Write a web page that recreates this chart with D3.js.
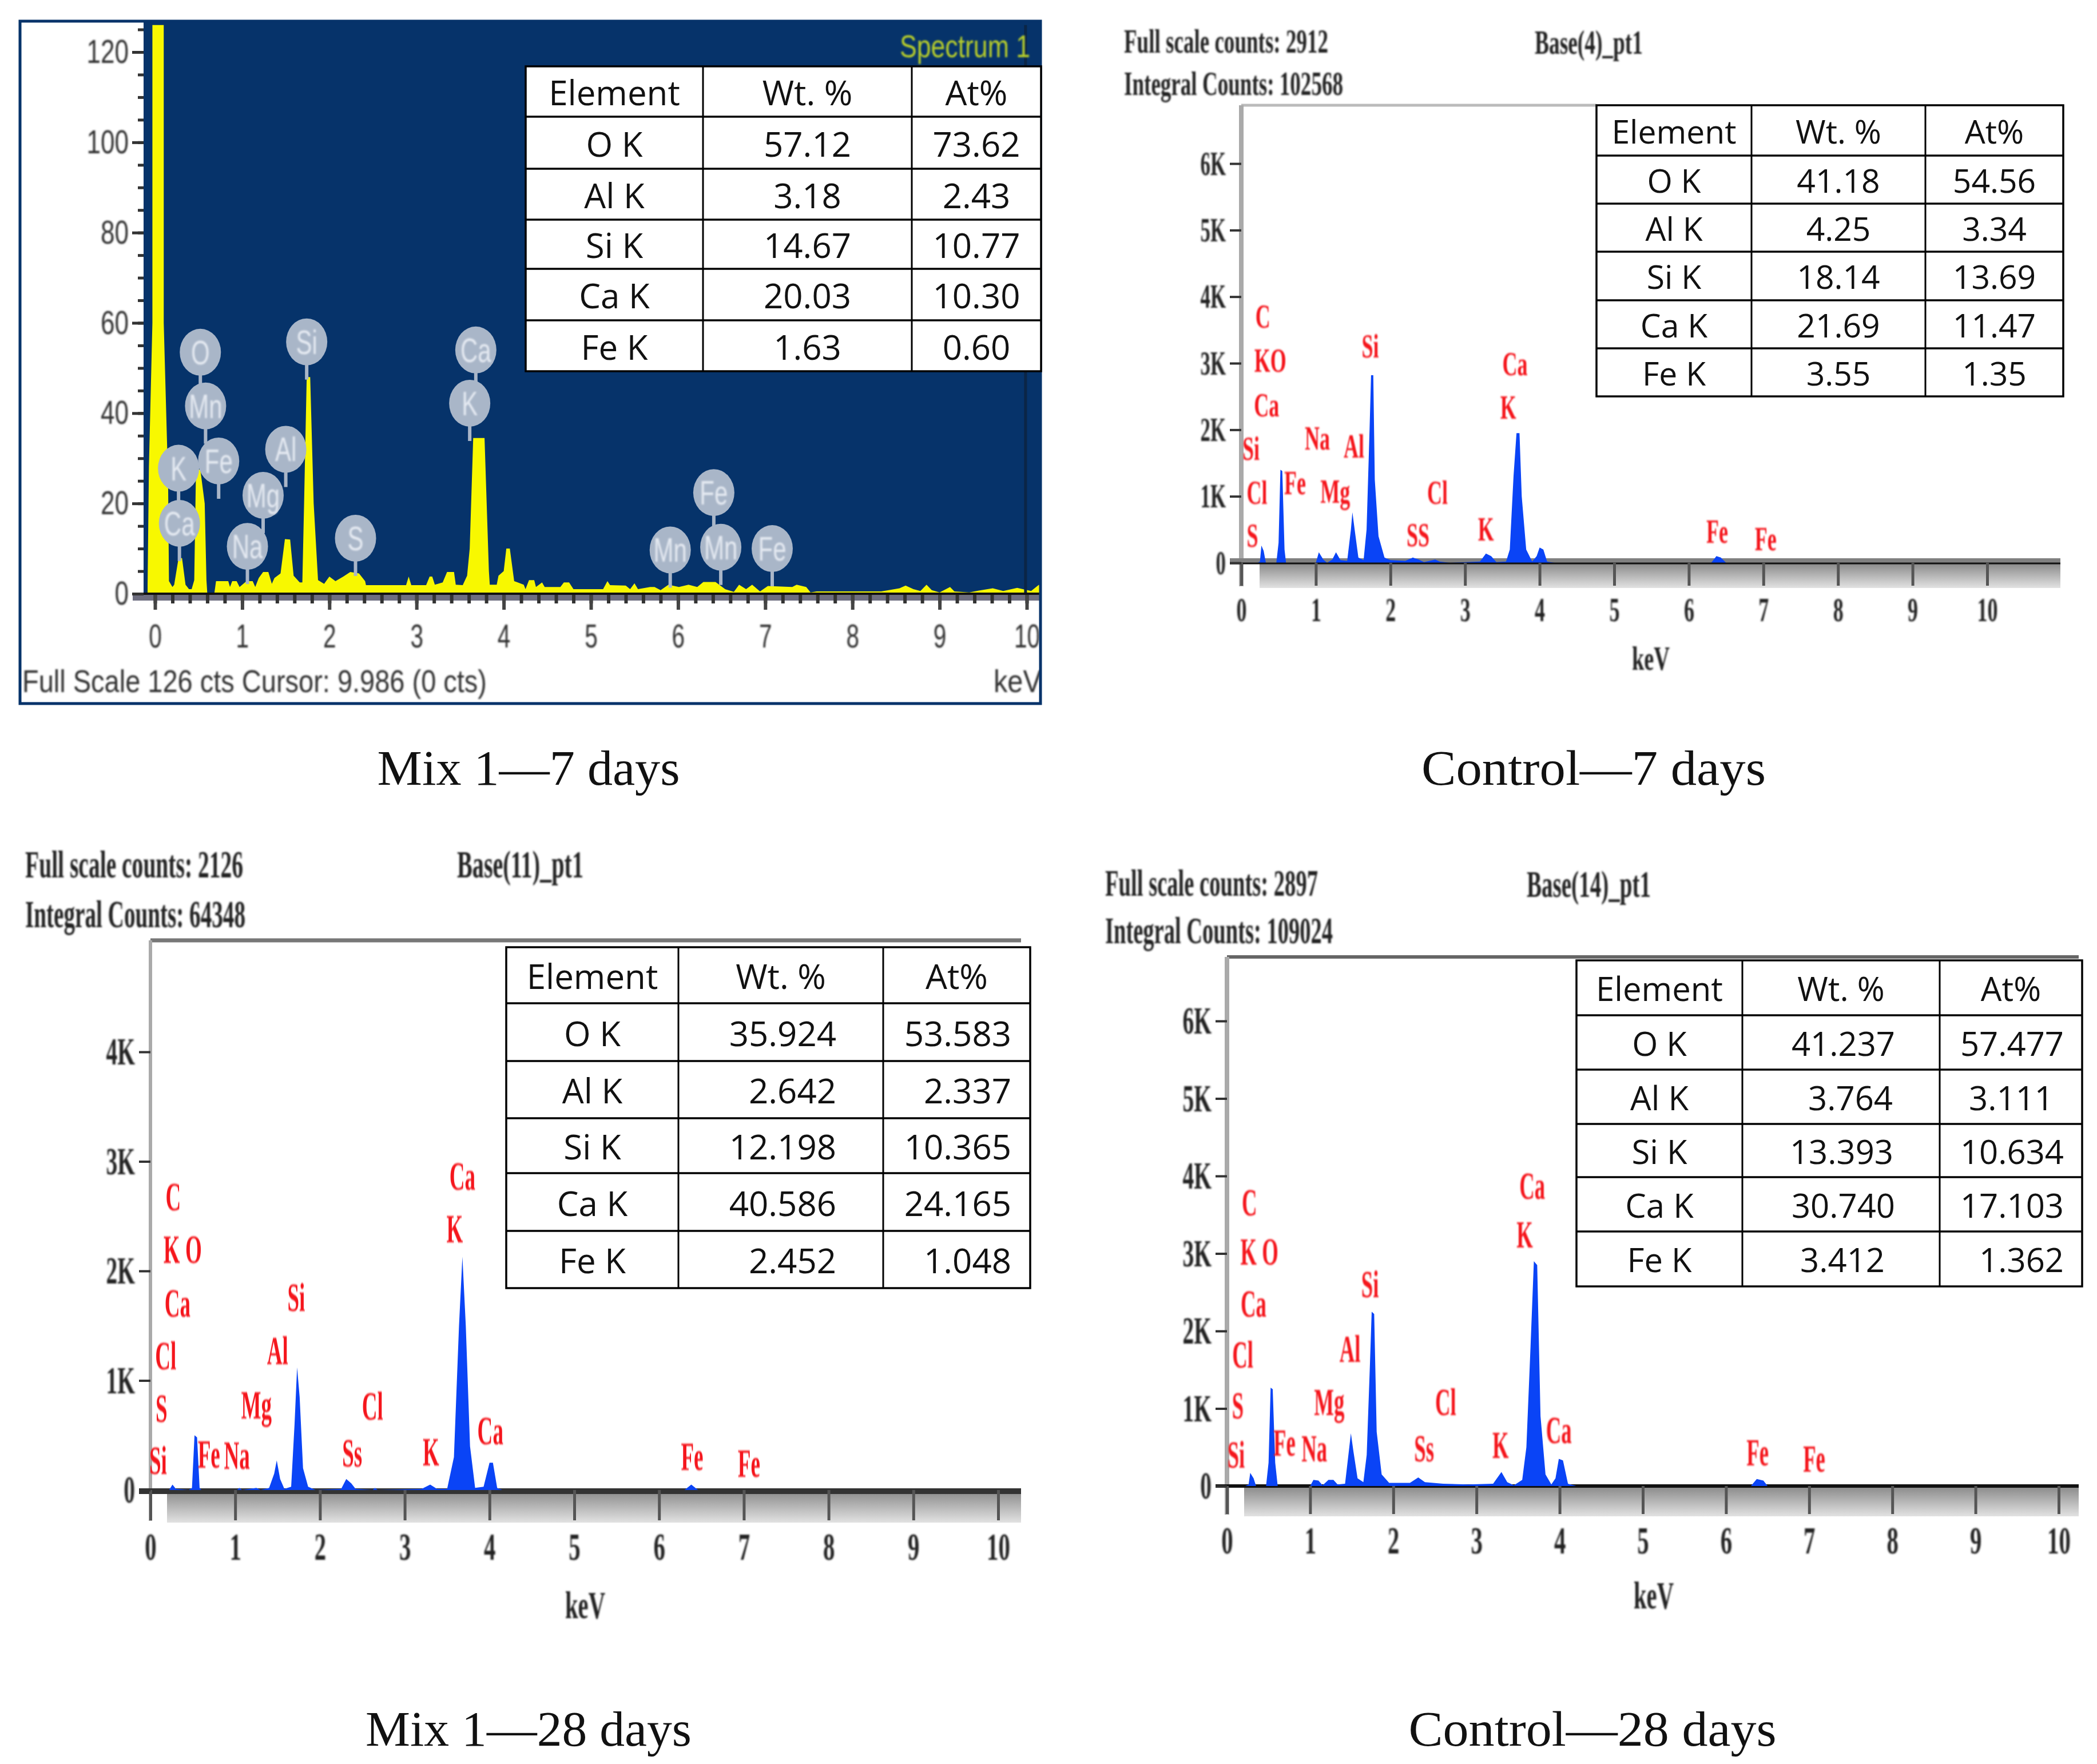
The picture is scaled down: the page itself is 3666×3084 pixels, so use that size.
<!DOCTYPE html>
<html><head><meta charset="utf-8">
<script src="https://cdn.jsdelivr.net/npm/d3@7/dist/d3.min.js"></script>
<style>html,body{margin:0;background:#fff}svg{display:block}</style>
</head><body><svg id="c" width="3666" height="3084" viewBox="0 0 3666 3084"></svg>
<script>
// ---------- data ----------
const tableHeader = ["Element", "Wt. %", "At%"];
const elements = ["O K", "Al K", "Si K", "Ca K", "Fe K"];
const mix7Wt = ["57.12","3.18","14.67","20.03","1.63"];
const mix7At = ["73.62","2.43","10.77","10.30","0.60"];
const ctl7Wt = ["41.18","4.25","18.14","21.69","3.55"];
const ctl7At = ["54.56","3.34","13.69","11.47","1.35"];
const mix28Wt = ["35.924","2.642","12.198","40.586","2.452"];
const mix28At = ["53.583","2.337","10.365","24.165","1.048"];
const ctl28Wt = ["41.237","3.764","13.393","30.740","3.412"];
const ctl28At = ["57.477","3.111","10.634","17.103","1.362"];
const kevTicks = [0,1,2,3,4,5,6,7,8,9,10];

// spectrum points: [keV, counts]  (counts in cts for Mix 1-7 d, in K for the others)
const mix7Spectrum = [[-.085,2],[-.07,28],[-.03,60],[-.03,126],[.1,126],[.1,60],[.15,25],[.16,2.8],[.2,1.5],[.22,2],[.27,7.9],[.31,7.9],[.35,2],[.39,1],[.42,1],[.45,3],[.47,27.5],[.52,27.5],[.57,20],[.59,3],[.6,0],[.68,0],[.7,2.8],[.84,2.8],[.86,1.5],[.886,2.8],[.936,2.8],[.97,1.5],[1.05,2.8],[1.12,2.8],[1.15,1.5],[1.19,3.5],[1.24,4.8],[1.3,4.8],[1.34,2.2],[1.37,3.5],[1.44,4.5],[1.49,12.1],[1.55,12],[1.59,4],[1.66,2.5],[1.69,2.5],[1.71,20],[1.74,48],[1.78,48],[1.82,20],[1.87,3],[1.94,2.2],[2,3.8],[2.07,2.8],[2.16,3.8],[2.24,4.8],[2.34,4.5],[2.41,2.8],[2.42,1.9],[2.88,1.9],[2.91,3.8],[2.94,1.9],[3.11,1.9],[3.15,3.8],[3.18,3.8],[3.21,2],[3.3,2.5],[3.35,4.8],[3.43,4.8],[3.45,2],[3.53,1.9],[3.58,4],[3.61,10],[3.65,34.5],[3.78,34.5],[3.83,5],[3.84,2],[3.92,2],[3.94,4],[4,5],[4.03,10],[4.07,10],[4.12,2.8],[4.23,2],[4.25,1],[4.29,3],[4.35,3],[4.37,1.5],[4.44,2.5],[4.47,1.5],[4.65,1.5],[4.69,2.5],[4.75,2.5],[4.8,1],[4.99,1],[5.14,1],[5.19,2.8],[5.22,1.9],[5.4,1.8],[5.45,1],[5.5,2.3],[5.54,1],[5.68,1.5],[5.73,1.5],[5.8,.8],[5.89,2],[6.01,1.5],[6.12,2],[6.22,1.5],[6.29,2.6],[6.43,2.6],[6.54,1],[6.64,.4],[6.7,2],[6.78,1],[6.85,2],[6.94,.5],[7.03,1.7],[7.31,1.5],[7.36,2],[7.47,1.5],[7.52,.3],[7.59,.5],[7.77,.5],[7.94,.5],[8.22,.5],[8.33,.5],[8.54,1.2],[8.61,1.8],[8.7,1],[8.78,.6],[8.85,2],[8.91,.8],[9,.3],[9.12,1.5],[9.17,.5],[9.34,.3],[9.45,.7],[9.61,1.2],[9.73,.6],[9.89,1.3],[10.05,.6],[10.14,2],[10.19,.6],[10.3,.6]];
const ctl7Spectrum = [[.22,0],[.25,.02],[.27,.26],[.3,.18],[.33,0],[.47,0],[.5,.3],[.525,1.4],[.55,1.38],[.58,.2],[.6,0],[1,0],[1.04,.16],[1.1,.05],[1.15,0],[1.22,.05],[1.27,.16],[1.33,.04],[1.42,.03],[1.47,.5],[1.49,.76],[1.52,.5],[1.57,.08],[1.64,.04],[1.68,.5],[1.72,2],[1.74,2.82],[1.77,2.82],[1.79,1.25],[1.84,.4],[1.92,.08],[2,.04],[2.2,.03],[2.3,.08],[2.38,.05],[2.45,.01],[2.6,.05],[2.66,.02],[2.8,0],[3.2,.02],[3.28,.14],[3.35,.1],[3.42,.01],[3.55,.02],[3.6,.2],[3.65,1.3],[3.69,1.95],[3.73,1.95],[3.76,1],[3.82,.2],[3.9,.02],[3.96,.1],[4,.23],[4.05,.2],[4.1,.02],[4.2,0],[6.3,0],[6.37,.1],[6.43,.08],[6.5,0],[10.7,0]];
const mix28Spectrum = [[.22,0],[.26,.05],[.3,.01],[.45,0],[.49,.02],[.52,.5],[.55,.48],[.58,.02],[.6,0],[1.02,0],[1.05,.02],[1.08,0],[1.25,.02],[1.3,0],[1.4,.02],[1.46,.15],[1.49,.27],[1.53,.1],[1.58,.01],[1.66,.03],[1.7,.6],[1.73,1.12],[1.76,.85],[1.8,.2],[1.86,.03],[1.95,0],[2.25,.01],[2.31,.1],[2.37,.06],[2.42,.01],[2.62,0],[2.65,.02],[2.68,0],[3.2,.01],[3.3,.05],[3.38,.01],[3.5,.01],[3.58,.3],[3.64,1.5],[3.68,2.13],[3.72,1.5],[3.77,.4],[3.83,.02],[3.93,.03],[4,.25],[4.04,.25],[4.09,.02],[4.15,0],[6.3,0],[6.38,.05],[6.46,0],[10.2,0]];
const ctl28Spectrum = [[.22,0],[.26,.02],[.28,.17],[.32,.1],[.35,0],[.47,0],[.5,.3],[.525,1.27],[.55,1.25],[.58,.3],[.61,0],[1,0],[1.04,.08],[1.1,.07],[1.15,.01],[1.22,.08],[1.28,.08],[1.33,.02],[1.42,.03],[1.46,.4],[1.49,.68],[1.52,.45],[1.57,.1],[1.64,.05],[1.68,.4],[1.72,1.6],[1.74,2.25],[1.77,2.22],[1.8,.7],[1.86,.15],[1.95,.04],[2.2,.04],[2.3,.11],[2.38,.05],[2.6,.03],[2.9,.02],[3.2,.03],[3.3,.18],[3.37,.05],[3.45,.01],[3.55,.08],[3.6,.5],[3.65,1.8],[3.69,2.9],[3.73,2.85],[3.77,.9],[3.83,.15],[3.9,.02],[3.95,.1],[3.99,.35],[4.04,.33],[4.1,.03],[4.2,0],[6.3,0],[6.37,.09],[6.45,.07],[6.5,0],[10.2,0]];

// peak labels: [text, keV, height]
const mix7Bubbles = [["O",.52,53.5],["Mn",.58,41.6],["K",.27,27.8],["Fe",.73,29.4],["Ca",.28,15.6],["Mg",1.24,21.8],["Na",1.06,10.5],["Al",1.5,32],["Si",1.74,55.8],["S",2.3,12.3],["Ca",3.68,54],["K",3.61,42.2],["Fe",6.41,22.4],["Mn",5.91,9.7],["Mn",6.49,10.3],["Fe",7.08,10]];
const ctl7Labels = [["C",.29,3.71],["KO",.39,3.05],["Ca",.34,2.38],["Si",.13,1.73],["Cl",.21,1.07],["S",.15,.42],["Fe",.72,1.21],["Na",1.02,1.88],["Al",1.51,1.76],["Mg",1.26,1.08],["Si",1.73,3.27],["SS",2.37,.43],["Cl",2.63,1.07],["K",3.28,.52],["Ca",3.67,3],["K",3.58,2.35],["Fe",6.38,.48],["Fe",7.03,.37]];
const mix28Labels = [["C",.27,2.68],["K O",.38,2.2],["Ca",.32,1.71],["Cl",.18,1.23],["S",.13,.75],["Si",.09,.275],["Fe",.69,.33],["Na",1.02,.32],["Mg",1.25,.78],["Al",1.5,1.275],["Si",1.72,1.76],["Ss",2.38,.34],["Cl",2.62,.77],["K",3.31,.35],["Ca",3.68,2.87],["K",3.59,2.39],["Ca",4.01,.545],["Fe",6.39,.31],["Fe",7.06,.25]];
const ctl28Labels = [["C",.27,3.67],["K O",.39,3.03],["Ca",.32,2.36],["Cl",.19,1.7],["S",.13,1.05],["Si",.11,.41],["Fe",.69,.57],["Na",1.05,.49],["Mg",1.23,1.09],["Al",1.48,1.78],["Si",1.72,2.61],["Ss",2.37,.49],["Cl",2.63,1.09],["K",3.29,.54],["Ca",3.67,3.88],["K",3.58,3.25],["Ca",3.99,.73],["Fe",6.38,.44],["Fe",7.06,.36]];

// ---------- layout ----------
const svg = d3.select("#c");
const defs = svg.append("defs");
defs.append("filter").attr("id","soft").append("feGaussianBlur").attr("stdDeviation",1.5);
const grad = defs.append("linearGradient").attr("id","band").attr("x1",0).attr("x2",0).attr("y1",0).attr("y2",1);
grad.append("stop").attr("offset",0).attr("stop-color","#888");
grad.append("stop").attr("offset",1).attr("stop-color","#e2e2e2");

const SERIF = "'Liberation Serif'";
const SANS = "'Liberation Sans'";

function fit(sel, w){ sel.attr("textLength",w).attr("lengthAdjust","spacingAndGlyphs"); return sel; }
function squeeze(sel, f){
  sel.each(function(){ const n=this; const w=n.getComputedTextLength();
    n.setAttribute("textLength", w*f); n.setAttribute("lengthAdjust","spacingAndGlyphs"); });
  return sel;
}
function label(g, txt, x, y, size, opts={}){
  return g.append("text").attr("x",x).attr("y",y).attr("dy",".35em")
    .attr("text-anchor",opts.anchor||"middle")
    .attr("font-family",opts.family||SERIF).attr("font-size",size)
    .attr("font-weight",opts.weight||"normal").attr("fill",opts.fill||"#000").text(txt);
}
function drawTable(t){
  const g = svg.append("g");
  const [x0,,,x3]=t.xs, ys=t.ys;
  g.append("rect").attr("x",x0).attr("y",ys[0]).attr("width",x3-x0).attr("height",ys[6]-ys[0])
    .attr("fill","#fff").attr("stroke","#000").attr("stroke-width",3.5);
  ys.slice(1,6).forEach(y=>g.append("line").attr("x1",x0).attr("x2",x3).attr("y1",y).attr("y2",y).attr("stroke","#000").attr("stroke-width",3.5));
  t.xs.slice(1,3).forEach(x=>g.append("line").attr("x1",x).attr("x2",x).attr("y1",ys[0]).attr("y2",ys[6]).attr("stroke","#000").attr("stroke-width",3));
  const opt={family:"'Open Sans'",fill:"#111"};
  const cx=i=>(t.xs[i]+t.xs[i+1])/2, cy=r=>(ys[r]+ys[r+1])/2+3;
  tableHeader.forEach((h,i)=>label(g,h,cx(i),cy(0),t.size,opt));
  elements.forEach((e,r)=>{
    label(g,e,cx(0),cy(r+1),t.size,opt);
    if(t.endX){
      label(g,t.wt[r],t.endX[0]+(t.wtShift?t.wtShift[r]:0),cy(r+1),t.size,{...opt,anchor:"end"});
      label(g,t.at[r],t.endX[1]+(t.atShift?t.atShift[r]:0),cy(r+1),t.size,{...opt,anchor:"end"});
    } else {
      label(g,t.wt[r],cx(1),cy(r+1),t.size,opt);
      label(g,t.at[r],cx(2),cy(r+1),t.size,opt);
    }
  });
}

// ---------- EDS panels with white background ----------
function drawEds(p){
  const g = svg.append("g");
  const x = d3.scaleLinear().domain([0,10]).range([p.x0,p.x10]);
  const y = d3.scaleLinear().domain([0,p.yMax]).range([p.y0,p.yTop]);
  g.append("line").attr("x1",p.x0).attr("x2",p.topEnd).attr("y1",p.top).attr("y2",p.top).attr("stroke",p.topColor).attr("stroke-width",p.topW);
  g.append("line").attr("x1",p.x0).attr("x2",p.x0).attr("y1",p.top).attr("y2",p.bandBottom-3).attr("stroke","#aaa").attr("stroke-width",p.leftW);
  g.append("rect").attr("x",p.bandStart).attr("y",p.y0).attr("width",p.axisEnd-p.bandStart).attr("height",p.bandBottom-p.y0).attr("fill","url(#band)");
  g.append("rect").attr("x",p.x0-20).attr("y",p.y0+p.stripe[0]).attr("width",p.axisEnd-p.x0+20).attr("height",p.stripe[1]).attr("fill",p.stripe[2]);
  g.append("path").datum(p.spectrum)
    .attr("fill","#0a44f6")
    .attr("d",d3.area().x(d=>x(d[0])).y0(y(0)).y1(d=>y(d[1])));
  if(p.thin) g.append("line").attr("x1",p.x0-20).attr("x2",p.axisEnd).attr("y1",p.y0+1).attr("y2",p.y0+1).attr("stroke","#111").attr("stroke-width",3);
  const xa = g.append("g").attr("transform",`translate(0,${p.y0})`)
    .call(d3.axisBottom(x).tickValues(kevTicks).tickFormat(d3.format("d")).tickSize(p.bandBottom-p.y0-4));
  xa.select(".domain").remove();
  xa.selectAll("line").attr("stroke","#555").attr("stroke-width",5);
  const xt = xa.selectAll("text").attr("y",p.xLabelY-p.y0).attr("dy",".35em").attr("font-family",SERIF).attr("font-weight","bold").attr("font-size",p.tickSize).attr("fill","#222").attr("filter","url(#soft)");
  squeeze(xt,.6);
  const ya = g.append("g").attr("transform",`translate(${p.x0},0)`)
    .call(d3.axisLeft(y).tickValues(d3.range(0,p.yMax+1)).tickFormat(d=>d?d+"K":"0").tickSize(20).tickPadding(7));
  ya.select(".domain").remove();
  ya.selectAll("line").attr("stroke","#333").attr("stroke-width",4);
  const yt = ya.selectAll("text").attr("font-family",SERIF).attr("font-weight","bold").attr("font-size",p.tickSize).attr("fill","#222").attr("filter","url(#soft)");
  squeeze(yt,.58);
  // peak labels: narrowed with a horizontal scale so their boxes stay true to the drawn width
  p.labels.forEach(l=>{
    label(g,l[0],0,0,p.labelSize,{weight:"bold",fill:"#f5141e"})
      .attr("transform",`translate(${x(l[1])},${y(l[2])}) scale(${p.labelSqueeze},1)`)
      .attr("filter","url(#soft)");
  });
  const hopt={anchor:"start",weight:"bold",fill:"#222"};
  p.headers.forEach(h=>fit(label(g,h[0],h[1],h[2],p.headSize,hopt).attr("filter","url(#soft)"),h[3]));
  fit(label(g,"keV",p.kev[0],p.kev[1],p.tickSize,{weight:"bold",fill:"#222"}).attr("filter","url(#soft)"),p.kev[2]);
}

// ---------- Mix 1 - 7 days (navy spectrum) ----------
(function(){
  const clipId="clipA";
  defs.append("clipPath").attr("id",clipId).append("rect").attr("x",35).attr("y",37).attr("width",1784).attr("height",1193);
  const g = svg.append("g");
  g.append("rect").attr("x",35).attr("y",37).attr("width",1784).attr("height",1193).attr("fill","#fff");
  const inner = g.append("g").attr("clip-path",`url(#${clipId})`);
  const x = d3.scaleLinear().domain([0,10]).range([271,1795]);
  const y = d3.scaleLinear().domain([0,120]).range([1038,91]);
  const navy = "#06336a";
  inner.append("rect").attr("x",251).attr("y",37).attr("width",1570).attr("height",1001).attr("fill",navy);
  inner.append("path").datum(mix7Spectrum).attr("fill","#f8f800")
    .attr("d",d3.area().x(d=>x(d[0])).y0(y(0)).y1(d=>y(d[1])));
  inner.append("line").attr("x1",x(9.986)).attr("x2",x(9.986)).attr("y1",y(0)).attr("y2",y(126)).attr("stroke","#0b2546").attr("stroke-width",5);
  inner.append("rect").attr("x",232).attr("y",1038).attr("width",1590).attr("height",12).attr("fill","#6e6e80");
  inner.append("line").attr("x1",232).attr("x2",1821).attr("y1",1038).attr("y2",1038).attr("stroke","#111").attr("stroke-width",4);
  const minorX = inner.append("g").attr("transform","translate(0,1040)")
    .call(d3.axisBottom(x).tickValues(d3.range(0,10.3,.2)).tickFormat("").tickSize(15));
  minorX.select(".domain").remove();
  minorX.selectAll("line").attr("stroke","#333").attr("stroke-width",6);
  const majorX = inner.append("g").attr("transform","translate(0,1040)")
    .call(d3.axisBottom(x).tickValues(kevTicks).tickFormat(d3.format("d")).tickSize(26));
  majorX.select(".domain").remove();
  majorX.selectAll("line").attr("stroke","#444").attr("stroke-width",6);
  const xt = majorX.selectAll("text").attr("y",1112-1040).attr("dy",".35em").attr("font-family",SANS).attr("font-size",58).attr("fill","#333").attr("filter","url(#soft)");
  squeeze(xt,.7);
  const minorY = inner.append("g").attr("transform","translate(251,0)")
    .call(d3.axisLeft(y).tickValues(d3.range(0,126,5)).tickFormat("").tickSize(10));
  minorY.select(".domain").remove();
  minorY.selectAll("line").attr("stroke","#333").attr("stroke-width",5);
  const majorY = inner.append("g").attr("transform","translate(251,0)")
    .call(d3.axisLeft(y).tickValues(d3.range(0,121,20)).tickFormat(d3.format("d")).tickSize(20).tickPadding(6));
  majorY.select(".domain").remove();
  majorY.selectAll("line").attr("stroke","#333").attr("stroke-width",5);
  const yt = majorY.selectAll("text").attr("font-family",SANS).attr("font-size",58).attr("fill","#333").attr("filter","url(#soft)");
  squeeze(yt,.76);
  mix7Bubbles.forEach(b=>{
    const bx=x(b[1]), by=y(b[2]);
    inner.append("line").attr("x1",bx).attr("x2",bx).attr("y1",by).attr("y2",by+66).attr("stroke","#a9b6c8").attr("stroke-width",6);
    inner.append("ellipse").attr("cx",bx).attr("cy",by).attr("rx",36).attr("ry",41).attr("fill","#a9b6c8");
    const t=label(inner,b[0],bx,by,60,{family:SANS,fill:"#e4e9f1"}).attr("filter","url(#soft)");
    squeeze(t,.7);
  });
  fit(label(inner,"Spectrum 1",1573,80,56,{anchor:"start",family:SANS,fill:"#b6cc2c"}).attr("filter","url(#soft)"),228);
  fit(label(inner,"Full Scale 126 cts Cursor: 9.986  (0 cts)",39,1190,56,{anchor:"start",family:SANS,fill:"#333"}).attr("filter","url(#soft)"),812);
  fit(label(inner,"keV",1737,1190,56,{anchor:"start",family:SANS,fill:"#333"}).attr("filter","url(#soft)"),84);
  g.append("rect").attr("x",35).attr("y",37).attr("width",1784).attr("height",1193).attr("fill","none").attr("stroke",navy).attr("stroke-width",5);
})();

drawTable({xs:[919,1229,1594,1820],ys:[116,204,295,384,470,560,649],size:60,wt:mix7Wt,at:mix7At});

drawEds({x0:2170,x10:3474,y0:984,yMax:6,yTop:286,top:184,topEnd:2791,topColor:"#bbb",topW:5,leftW:8,
  bandStart:2202,axisEnd:3602,bandBottom:1028,stripe:[-8,8,"#808080"],thin:true,xLabelY:1065,
  tickSize:60,labelSize:60,labelSqueeze:.6,headSize:60,spectrum:ctl7Spectrum,labels:ctl7Labels,
  headers:[["Full scale counts: 2912",1965,71,357],["Integral Counts: 102568",1965,145,383],["Base(4)_pt1",2683,73,189]],
  kev:[2886,1150,66]});
drawTable({xs:[2791,3062,3366,3607],ys:[184,272,356,440,525,609,693],size:57,wt:ctl7Wt,at:ctl7At});

drawEds({x0:263,x10:1745,y0:2605,yMax:4,yTop:1839,top:1644,topEnd:1785,topColor:"#777",topW:7,leftW:6,
  bandStart:292,axisEnd:1785,bandBottom:2662,stripe:[-3,10,"#333"],thin:false,xLabelY:2703,
  tickSize:68,labelSize:70,labelSqueeze:.53,headSize:68,spectrum:mix28Spectrum,labels:mix28Labels,
  headers:[["Full scale counts: 2126",44,1510,381],["Integral Counts: 64348",44,1597,385],["Base(11)_pt1",799,1510,221]],
  kev:[1023,2805,70]});
drawTable({xs:[885,1186,1544,1801],ys:[1656,1754,1855,1955,2051,2152,2252],size:60,wt:mix28Wt,at:mix28At,endX:[1462,1768]});

drawEds({x0:2145,x10:3599,y0:2598,yMax:6,yTop:1785,top:1673,topEnd:3634,topColor:"#666",topW:6,leftW:8,
  bandStart:2175,axisEnd:3634,bandBottom:2651,stripe:[-3,6,"#111"],thin:false,xLabelY:2692,
  tickSize:68,labelSize:68,labelSqueeze:.54,headSize:66,spectrum:ctl28Spectrum,labels:ctl28Labels,
  headers:[["Full scale counts: 2897",1932,1543,372],["Integral Counts: 109024",1932,1626,398],["Base(14)_pt1",2669,1545,217]],
  kev:[2891,2788,70]});
drawTable({xs:[2756,3046,3391,3640],ys:[1679,1775,1870,1965,2058,2153,2249],size:58,wt:ctl28Wt,at:ctl28At,endX:[3313,3608],wtShift:[0,-4,-3,0,-18],atShift:[0,-18,0,0,0]});

// captions
const captions = [["Mix 1\u20147 days",924,1342,529],["Control\u20147 days",2786,1342,602],["Mix 1\u201428 days",924,3022,570],["Control\u201428 days",2784,3022,643]];
const cg = svg.append("g");
captions.forEach(c=>fit(label(cg,c[0],c[1],c[2],86,{fill:"#111"}),c[3]));
</script></body></html>
